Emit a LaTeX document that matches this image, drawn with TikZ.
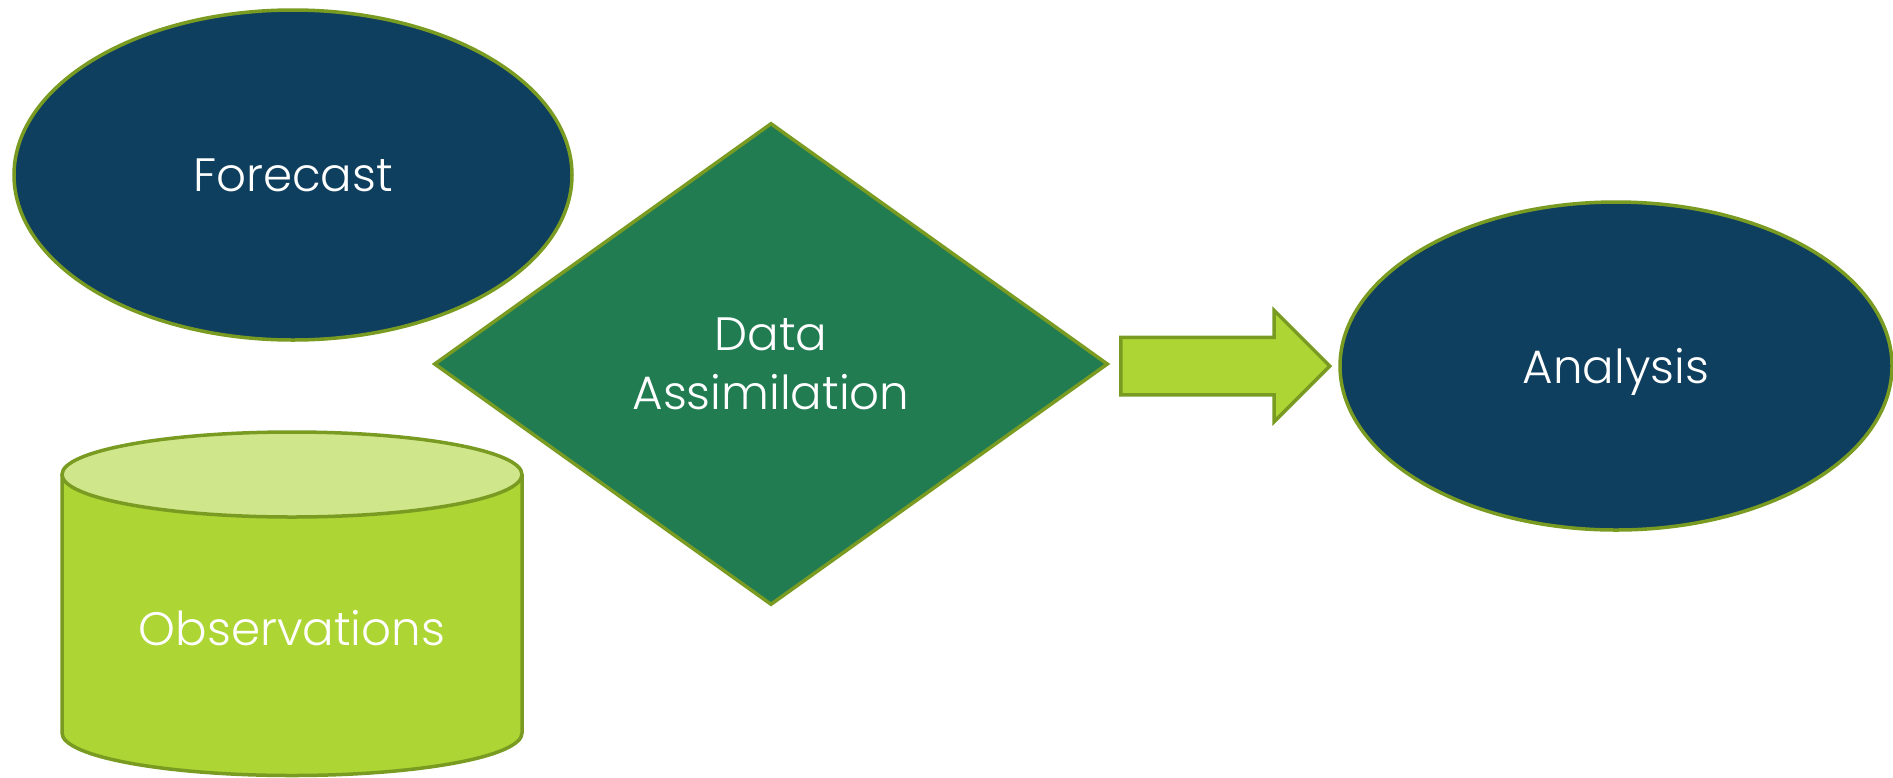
\documentclass[tikz,border=0pt]{standalone}
\usepackage{fontspec}
\setmainfont{Poppins Light}
\usetikzlibrary{shapes.geometric,shapes.arrows}
\definecolor{navy}{HTML}{0E3F5E}
\definecolor{dagreen}{HTML}{217C52}
\definecolor{obsgreen}{HTML}{ADD533}
\definecolor{obstop}{HTML}{D0E68A}
\definecolor{rim}{HTML}{7A9B22}
\begin{document}
\begin{tikzpicture}[x=0.5pt,y=-0.5pt,line width=1.75pt,
      every node/.append style={font=\fontsize{23.4}{29.5}\selectfont,text=white,text depth=0pt},
      blob/.style={ellipse,draw=rim,fill=navy,inner sep=0pt,minimum width=279pt,minimum height=165pt}]
                \useasboundingbox (0,0) rectangle (1893,777);

                \path (293,175) node[blob] (F) {Forecast};
                \path (1616,366) node[blob,minimum width=276pt,minimum height=164pt] (A) {Analysis};

                % the observations drum
                \path[draw=rim,fill=obsgreen,line join=round] (62,474.5) -- (62,733)
                  arc[start angle=180,end angle=0,x radius=230,y radius=42.5] -- (522,474.5) -- cycle;
                \path[draw=rim,fill=obstop] (292,474.5) ellipse[x radius=230,y radius=42.5];
                \path (292,627.5) node (O) {Observations};

                \path (771,364) node[diamond,draw=rim,fill=dagreen,align=center,inner sep=0pt,
                  minimum width=337pt,minimum height=241pt] (DA) {Data\\Assimilation};

                \path (1119,366) node[single arrow,anchor=tail,draw=rim,fill=obsgreen,inner sep=13.5pt,
                  single arrow head extend=13.5pt,minimum height=104.5pt] (go) {};
              \end{tikzpicture}
\end{document}
